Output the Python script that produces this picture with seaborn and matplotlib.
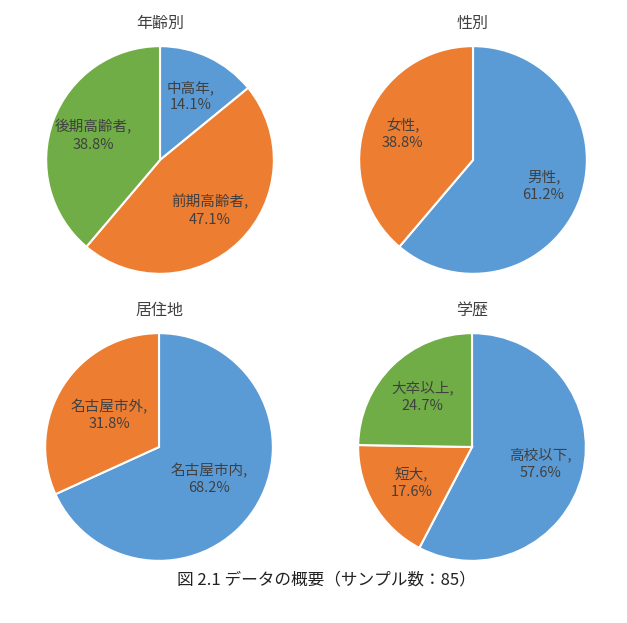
import matplotlib
matplotlib.use("Agg")
import matplotlib.pyplot as plt
import seaborn as sns

sns.set_theme(style="white")
plt.rcParams['font.family'] = ['Noto Sans CJK JP', 'DejaVu Sans']

# データ
age_labels = ["中高年", "前期高齢者", "後期高齢者"]
age_values = [14.1, 47.1, 38.8]
sex_labels = ["男性", "女性"]
sex_values = [61.2, 38.8]
home_labels = ["名古屋市内", "名古屋市外"]
home_values = [68.2, 31.8]
edu_labels = ["高校以下", "短大", "大卒以上"]
edu_values = [57.6, 17.6, 24.7]

titles = ["年齢別", "性別", "居住地", "学歴"]
caption = "図 2.1 データの概要（サンプル数：85）"

colors = ["#5B9BD5", "#ED7D31", "#70AD47"]

fig = plt.figure(figsize=(6.27, 6.23), dpi=100)

# 各円グラフの位置 (figure座標)
boxes = [
    [0.0718, 0.5586, 0.3668, 0.3692],
    [0.5710, 0.5586, 0.3668, 0.3692],
    [0.0702, 0.0979, 0.3668, 0.3692],
    [0.5694, 0.0979, 0.3668, 0.3692],
]
dists = [0.62, 0.66, 0.52, 0.62]

data = [(age_labels, age_values), (sex_labels, sex_values),
        (home_labels, home_values), (edu_labels, edu_values)]

for box, title, dist, (labels, values) in zip(boxes, titles, dists, data):
    ax = fig.add_axes(box)
    texts = [f"{lab},\n{v:.1f}%" for lab, v in zip(labels, values)]
    wedges, txts = ax.pie(
        values,
        labels=texts,
        colors=colors[:len(values)],
        startangle=90,
        counterclock=False,
        labeldistance=dist,
        wedgeprops=dict(edgecolor="white", linewidth=1.5),
        textprops=dict(fontsize=10.5, color="#404040", linespacing=1.3),
    )
    for t in txts:
        t.set_horizontalalignment("center")
        t.set_verticalalignment("center")
    ax.set_xlim(-1.01, 1.01)
    ax.set_ylim(-1.01, 1.01)
    ax.set_aspect("equal")
    ax.set_title(title, fontsize=11.5, color="#404040", pad=12)

fig.text(0.52, 1 - 580 / 623, caption, ha="center", va="center",
         fontsize=12, color="#222222")

plt.savefig("out.png", dpi=100)
